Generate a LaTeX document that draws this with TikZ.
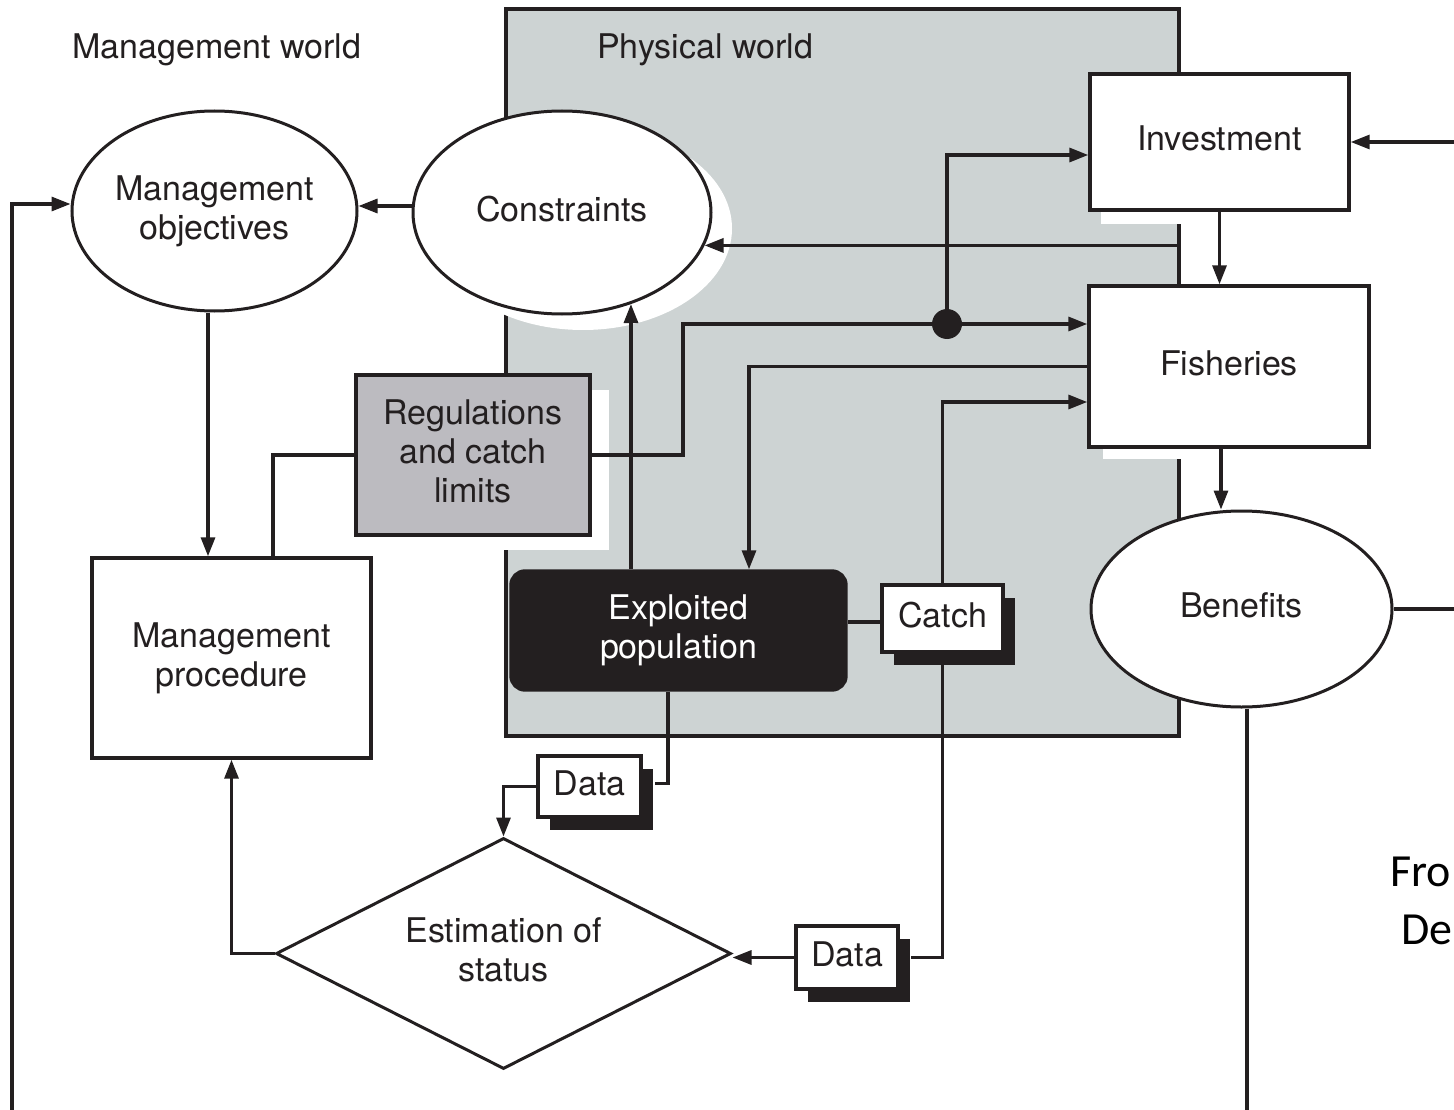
\documentclass[tikz,border=0pt]{standalone}
\usepackage{fontspec}
\setmainfont{TeX Gyre Heros}
\newfontfamily\notefont{Carlito}
\usetikzlibrary{arrows.meta,shapes.geometric,shadows}

\definecolor{ink}{HTML}{231F20}
\definecolor{physfill}{HTML}{CDD3D3}
\definecolor{regfill}{HTML}{BCBBC0}

\tikzset{
  lbl/.style={font=\fontsize{34}{39}\selectfont, text=ink, align=center, inner sep=0pt},
  inbox/.style={lbl, text depth=7pt},
  outline/.style={draw=ink, line width=3.4pt},
  box/.style={inbox, outline, rectangle, fill=white},
  oval/.style={inbox, outline, line width=3pt, ellipse, fill=white},
  whiteshade/.style 2 args={drop shadow={fill=white, opacity=1, shadow xshift=#1, shadow yshift=#2}},
  blackshade/.style={drop shadow={fill=ink, opacity=1, shadow xshift=12pt, shadow yshift=-13pt}},
  conn/.style={draw=ink, line width=3.2pt},
  arr/.style={-{Triangle[length=19pt,width=14pt]}},
}

\begin{document}
\begin{tikzpicture}[x=1pt, y=-1pt]
  \fill[white] (0,0) rectangle (1454,1110);
  \useasboundingbox (0,0) rectangle (1454,1110);

  % shaded region for the physical world
  \draw[outline, fill=physfill] (506,9) rectangle (1179,736);

  \node[lbl, anchor=base west] (mw) at (72,59) {Management world};
  \node[lbl, anchor=base west] (pw) at (597,59) {Physical world};

  % nodes
  \node[oval, minimum width=285pt, minimum height=200pt] (mobj) at (214.5,211) {Management\\objectives};
  \node[oval, minimum width=298pt, minimum height=203pt, whiteshade={21pt}{-16pt}] (cons) at (562,212.5) {Constraints};
  \node[box, minimum width=259pt, minimum height=136pt, whiteshade={11pt}{-14pt}] (inv) at (1219.5,142) {Investment};
  \node[box, minimum width=280pt, minimum height=161pt, whiteshade={14pt}{-12pt}] (fish) at (1229,366.5) {Fisheries};
  \node[oval, minimum width=301pt, minimum height=196pt] (ben) at (1241.5,609) {Benefits};
  \node[box, fill=regfill, minimum width=234pt, minimum height=160pt, whiteshade={19pt}{-15pt}] (reg) at (473,455) {Regulations\\and catch\\limits};
  \node[box, minimum width=279pt, minimum height=200pt] (proc) at (231.5,658) {Management\\procedure};
  \node[inbox, outline, fill=ink, text=white, rounded corners=14pt, minimum width=335pt, minimum height=119pt] (expl) at (678.5,630.5) {Exploited\\population};
  \node[box, minimum width=121pt, minimum height=67pt, blackshade] (catch) at (942.5,618.5) {Catch};
  \node[box, minimum width=103pt, minimum height=61pt, blackshade] (data1) at (589.5,786.5) {Data};
  \node[box, minimum width=102pt, minimum height=63pt, blackshade] (data2) at (847,957.5) {Data};
  \node[inbox, outline, line width=3pt, diamond, aspect=2, fill=white, minimum width=455pt, minimum height=231pt] (est) at (503.5,953.5) {Estimation of\\status};

  % side notes
  \node[anchor=base west, inner sep=0pt, text=black, font=\notefont\fontsize{46}{56}\selectfont] (n1) at (1390,886) {Fro};
  \node[anchor=base west, inner sep=0pt, text=black, font=\notefont\fontsize{46}{56}\selectfont] (n2) at (1401,944) {De};

  % bend points and open ends
  \coordinate (j) at (947,324);
  \coordinate (jb) at (683,324);
  \coordinate (jt) at (947,155);
  \coordinate (rin) at (1454,142);
  \coordinate (rout) at (1454,609);
  \coordinate (bout) at (1247,1110);
  \coordinate (lin) at (12,1110);

  % connectors
  \draw[conn, arr] ([yshift=6.5pt]cons.west) -- ([yshift=6.5pt]cons.west -| mobj.east);
  \draw[conn, arr] ([xshift=-6.5pt]mobj.south) -- ([xshift=-6.5pt]mobj.south |- proc.north);
  \draw[conn] (reg.west) -| ([xshift=41.5pt]proc.north);
  \draw[conn, arr] (reg.east) -| (jb) -- (j -| fish.west);
  \draw[conn, arr] (j) -- (jt) -- (jt -| inv.west);
  \draw[conn, arr] (rin) -- (inv.east);
  \draw[conn, arr] (inv.south) -- (inv.south |- fish.north);
  \draw[conn, arr] ([xshift=92pt]fish.north west) |- (cons.-13.4);
  \draw[conn, arr] (fish.west) -| ([xshift=70.5pt]expl.north);
  \draw[conn, arr] (catch.north) |- ([yshift=-35.5pt]fish.west);
  \draw[conn, arr] ([xshift=-8pt]fish.south) -- ([xshift=-8pt]fish.south |- ben.north);
  \draw[conn] (ben.east) -- (rout);
  \draw[conn] ([xshift=5.5pt]ben.south) -- (bout);
  \draw[conn, arr] (expl.north -| cons.-53) -- (cons.-53);
  \draw[conn] ([yshift=-3.5pt]catch.west) -- ([yshift=-3.5pt]catch.west -| expl.east);
  \draw[conn] ([xshift=-10.5pt]expl.south) |- ([xshift=12pt, yshift=3pt]data1.east);
  \draw[conn, arr] (data1.west) -| (est.north);
  \draw[conn] (catch.south) |- ([xshift=11pt]data2.east);
  \draw[conn, arr] (data2.west) -- (data2.west -| est.east);
  \draw[conn, arr] (est.west) -| (proc.south);
  \draw[conn, arr] (lin) |- ([yshift=7pt]mobj.west);

  \fill[ink] (j) circle (15pt);
\end{tikzpicture}
\end{document}
